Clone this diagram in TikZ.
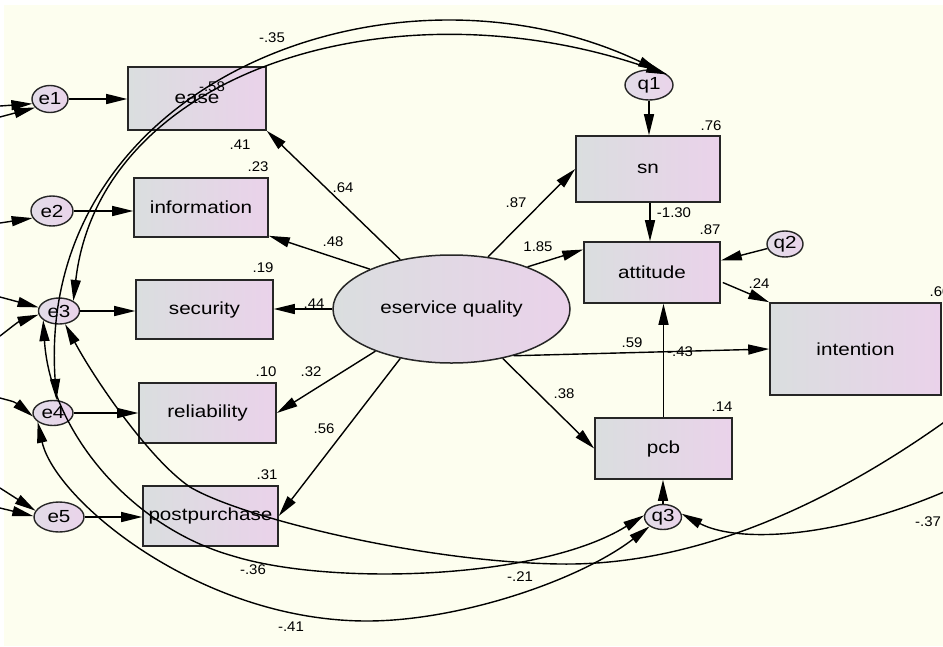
\documentclass[tikz,border=0pt]{standalone}
\usepackage{fontspec}
\setmainfont{Liberation Sans}
\usepackage{graphicx}
\usetikzlibrary{arrows.meta,shapes.geometric,calc}
\definecolor{bg}{RGB}{253,254,239}
\definecolor{boxL}{RGB}{218,222,223}
\definecolor{boxR}{RGB}{234,210,234}
\definecolor{errL}{RGB}{226,220,232}
\definecolor{errR}{RGB}{234,212,234}
\newcommand\lbl[1]{\scalebox{1.18}[1]{\fontsize{17.5}{20}\selectfont #1}}
\newcommand\nlab[1]{\scalebox{1.07}[1]{\fontsize{14}{16}\selectfont #1}}
\tikzset{
  obsbox/.style={rectangle, draw=black!85, line width=1.6pt, left color=boxL, right color=boxR, inner sep=0pt},
  errnode/.style={ellipse, draw=black!85, line width=1.4pt, left color=errL, right color=errR, inner sep=0pt},
  latent/.style={ellipse, draw=black!85, line width=1.5pt, left color=boxL, right color=boxR, inner sep=0pt},
  pth/.style={line width=1.4pt, draw=black},
  numlab/.style={inner sep=0pt}
}
\begin{document}
\begin{tikzpicture}[x=1pt,y=-1pt,>={Triangle[length=21pt,width=10pt]}]
\useasboundingbox (0,0) rectangle (943,646);
\clip (0,0) rectangle (943,646);
\fill[white] (0,0) rectangle (943,646);
\fill[bg] (4,5) rectangle (943,646);

% observed boxes
\node[obsbox, minimum width=138pt, minimum height=63pt] (ease) at (197,98.5) {\lbl{ease}};
\node[obsbox, minimum width=134pt, minimum height=59pt] (info) at (201,207.5) {\lbl{information}};
\node[obsbox, minimum width=137pt, minimum height=59pt] (sec) at (204.5,309.5) {\lbl{security}};
\node[obsbox, minimum width=137pt, minimum height=60pt] (rel) at (207.5,413) {\lbl{reliability}};
\node[obsbox, minimum width=135pt, minimum height=60pt] (pp) at (210.5,516) {\lbl{postpurchase}};
\node[obsbox, minimum width=144pt, minimum height=66pt] (sn) at (648,169) {\lbl{sn}};
\node[obsbox, minimum width=136pt, minimum height=61pt] (att) at (652,272.5) {\lbl{attitude}};
\node[obsbox, minimum width=171pt, minimum height=92pt] (int) at (855.5,349) {\lbl{intention}};
\node[obsbox, minimum width=137pt, minimum height=61pt] (pcb) at (663.5,448.5) {\lbl{pcb}};

% latent
\node[latent, minimum width=237pt, minimum height=108pt] (eq) at (451.5,309) {\lbl{eservice quality}};

% error terms
\node[errnode, minimum width=36pt, minimum height=27pt] (e1) at (50,99) {\lbl{e1}};
\node[errnode, minimum width=42pt, minimum height=30pt] (e2) at (52,211) {\lbl{e2}};
\node[errnode, minimum width=41pt, minimum height=26pt] (e3) at (59,311) {\lbl{e3}};
\node[errnode, minimum width=40pt, minimum height=25pt] (e4) at (53,413) {\lbl{e4}};
\node[errnode, minimum width=50pt, minimum height=30pt] (e5) at (59,517) {\lbl{e5}};
\node[errnode, minimum width=48pt, minimum height=30pt] (q1) at (649,85) {\lbl{q1}};
\node[errnode, minimum width=36pt, minimum height=26pt] (q2) at (785,244) {\lbl{q2}};
\node[errnode, minimum width=37pt, minimum height=25pt] (q3) at (663,517) {\lbl{q3}};

% free ends off the picture and helper points
\coordinate (L1a) at (0,106);
\coordinate (L1b) at (0,117);
\coordinate (L2) at (0,223);
\coordinate (L3a) at (0,297);
\coordinate (L3b) at (0,336);
\coordinate (L4) at (0,398);
\coordinate (L5a) at (0,488);
\coordinate (L5b) at (0,508);
\coordinate (R1) at (1000,380);
\coordinate (R2) at (1000,465);
\coordinate (snb) at ($(sn.south)+(2,0)$);
\coordinate (attin) at ($(att.west)+(0,-23)$);
\coordinate (attq) at ($(att.east)+(0,-12)$);
\coordinate (attout) at ($(att.east)+(2,10)$);
\coordinate (infoin) at ($(info.south east)+(0,-2)$);

% straight paths
\draw[pth,->] (e1.east) -- (e1.east -| ease.west);
\draw[pth,->] (e2.east) -- (e2.east -| info.west);
\draw[pth,->] (e3.east) -- (e3.east -| sec.west);
\draw[pth,->] (e4.east) -- (e4.east -| rel.west);
\draw[pth,->] (e5.east) -- (e5.east -| pp.west);
\draw[pth,->] (eq) -- (ease.south east);
\draw[pth,->] (eq.154) -- (infoin);
\draw[pth,->] (eq.west) -- (eq.west -| sec.east);
\draw[pth,->] (eq.209) -- (rel.east);
\draw[pth,->] (eq.224) -- (pp.east);
\draw[pth,->] (eq.55) -- (sn.west);
\draw[pth,->] (eq.29) -- (attin);
\draw[pth,->] (eq.-37) -- (int.west);
\draw[pth,->] (eq.-44) -- (pcb.west);
\draw[pth,->] (q1.south) -- (q1.south |- sn.north);
\draw[pth,->] (snb) -- (snb |- att.north);
\draw[pth,->] (q2) -- (attq);
\draw[pth,->] (attout) -- (int.north west);
\draw[pth,->] (pcb.north) -- (pcb.north |- att.south);
\draw[pth,->] (q3.north) -- (q3.north |- pcb.south);

% covariances
\draw[pth,<->] (e4.75) .. controls (35,80) and (395,-55) .. (q1.55);
\draw[pth,<->] (e3.35) .. controls (100,70) and (395,-20) .. (q1.30);
\draw[pth,<-] (e3.-65) .. controls (95,380) and (150,460) .. (190,487)
   .. controls (240,517) and (420,562) .. (560,564)
   .. controls (700,566) and (850,500) .. (R1);
\draw[pth,<->] (e3.-150) .. controls (50,430) and (130,527) .. (233,556)
   .. controls (330,586) and (540,580) .. (q3.175);
\draw[pth,<->] (e4.-150) .. controls (55,500) and (200,621) .. (367,621)
   .. controls (460,621) and (580,580) .. (q3.-145);
\draw[pth,<-] (q3.10) .. controls (740,545) and (860,540) .. (R2);

% left edge covariances
\draw[pth,->] (L1a) -- (e1.195);
\draw[pth,->] (L1b) -- (e1.210);
\draw[pth,->] (L2) -- (e2.200);
\draw[pth,->] (L3a) -- (e3.170);
\draw[pth,->] (L3b) .. controls (18,322) .. (e3.190);
\draw[pth,->] (L4) .. controls (15,402) .. (e4.190);
\draw[pth,->] (L5a) -- (e5.165);
\draw[pth,->] (L5b) -- (e5.178);

% numbers
\node[numlab] (n1) at (272,38) {\nlab{-.35}};
\node[numlab] (n2) at (212,87) {\nlab{-.58}};
\node[numlab] (n3) at (240,145) {\nlab{.41}};
\node[numlab] (n4) at (258,167) {\nlab{.23}};
\node[numlab] (n5) at (343,188) {\nlab{.64}};
\node[numlab] (n6) at (333,242) {\nlab{.48}};
\node[numlab] (n7) at (263,268) {\nlab{.19}};
\node[numlab] (n8) at (314,304) {\nlab{.44}};
\node[numlab] (n9) at (266,372) {\nlab{.10}};
\node[numlab] (n10) at (311,372) {\nlab{.32}};
\node[numlab] (n11) at (324,429) {\nlab{.56}};
\node[numlab] (n12) at (267,475) {\nlab{.31}};
\node[numlab] (n13) at (253,570) {\nlab{-.36}};
\node[numlab] (n14) at (291,627) {\nlab{-.41}};
\node[numlab] (n15) at (711,126) {\nlab{.76}};
\node[numlab] (n16) at (516,203) {\nlab{.87}};
\node[numlab] (n17) at (538,247) {\nlab{1.85}};
\node[numlab] (n18) at (674,213) {\nlab{-1.30}};
\node[numlab] (n19) at (710,230) {\nlab{.87}};
\node[numlab] (n20) at (759,284) {\nlab{.24}};
\node[numlab] (n21) at (940,292) {\nlab{.60}};
\node[numlab] (n22) at (632,343) {\nlab{.59}};
\node[numlab] (n23) at (680,352) {\nlab{-.43}};
\node[numlab] (n24) at (564,394) {\nlab{.38}};
\node[numlab] (n25) at (722,407) {\nlab{.14}};
\node[numlab] (n26) at (520,577) {\nlab{-.21}};
\node[numlab] (n27) at (928,522) {\nlab{-.37}};
\end{tikzpicture}
\end{document}
